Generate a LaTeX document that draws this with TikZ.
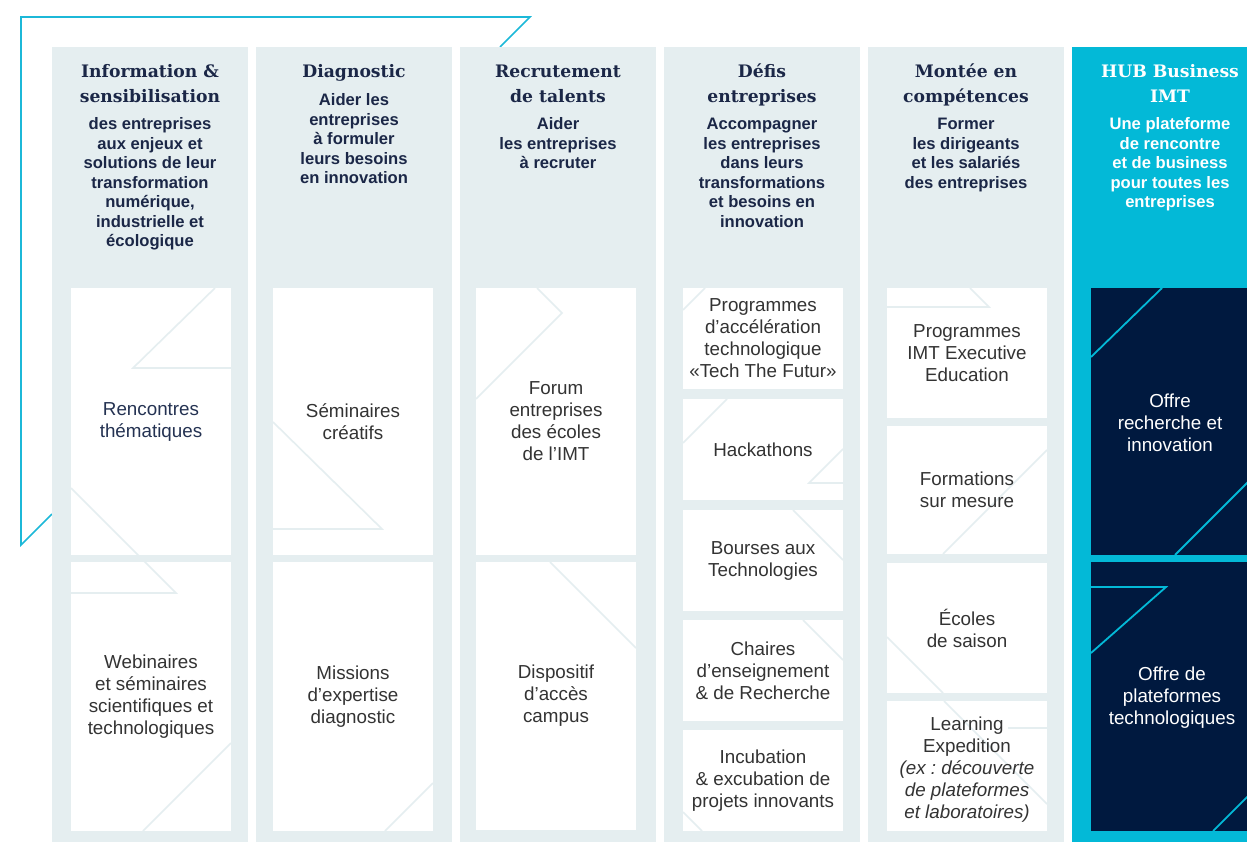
\documentclass[tikz,border=0pt]{standalone}
\usepackage{fontspec}
\setmainfont{Liberation Sans}
\newfontfamily\headfont{DejaVu Serif}
\frenchspacing
\definecolor{colbg}{HTML}{E5EEF0}
\definecolor{hubc}{HTML}{03B9D7}
\definecolor{framec}{HTML}{1CB8D8}
\definecolor{navybox}{HTML}{00193F}
\definecolor{headc}{HTML}{1B2747}
\definecolor{itemc}{HTML}{333333}
\definecolor{itemnavy}{HTML}{243252}
\begin{document}
\begin{tikzpicture}[x=1pt,y=-1pt,
  wbox/.style={fill=white, draw=none, inner sep=0pt, outer sep=0pt, anchor=north west},
  nbox/.style={fill=navybox, draw=none, inner sep=0pt, outer sep=0pt, anchor=north west},
  deco/.style={draw=colbg, line width=1.6pt, line join=miter},
  cdeco/.style={draw=hubc, line width=1.8pt, line join=miter},
  head/.style={anchor=base, align=center, inner sep=0pt, text=headc,
    font=\headfont\bfseries\fontsize{17.2}{25}\selectfont},
  sub/.style={anchor=base, align=center, inner sep=0pt, text=headc,
    font=\bfseries\fontsize{16.6}{19.5}\selectfont},
  item/.style={align=center, inner sep=0pt, text=itemc,
    font=\fontsize{18.8}{22}\selectfont}
]
\useasboundingbox (0,0) rectangle (1247,842);
\begin{scope}
\clip (0,0) rectangle (1247,842);
% frame
\draw[framec, line width=1.6pt, line join=miter] (500,47) -- (530,17) -- (21,17) -- (21,545) -- (52,514);
% columns
\foreach \i in {0,...,4} {
  \fill[colbg] ({52+204*\i},47) rectangle ({248+204*\i},842);
}
\fill[hubc] (1072,47) rectangle (1268,842);
% white boxes
\node[wbox, minimum width=160pt, minimum height=267pt] (b11) at (71,288) {};
\node[wbox, minimum width=160pt, minimum height=269pt] (b12) at (71,562) {};
\node[wbox, minimum width=160pt, minimum height=267pt] (b21) at (273,288) {};
\node[wbox, minimum width=160pt, minimum height=269pt] (b22) at (273,562) {};
\node[wbox, minimum width=160pt, minimum height=267pt] (b31) at (476,288) {};
\node[wbox, minimum width=160pt, minimum height=268pt] (b32) at (476,562) {};
\node[wbox, minimum width=160pt, minimum height=101pt] (b41) at (683,288) {};
\node[wbox, minimum width=160pt, minimum height=101pt] (b42) at (683,399) {};
\node[wbox, minimum width=160pt, minimum height=101pt] (b43) at (683,510) {};
\node[wbox, minimum width=160pt, minimum height=101pt] (b44) at (683,620) {};
\node[wbox, minimum width=160pt, minimum height=101pt] (b45) at (683,730) {};
\node[wbox, minimum width=160pt, minimum height=130pt] (b51) at (887,288) {};
\node[wbox, minimum width=160pt, minimum height=128pt] (b52) at (887,426) {};
\node[wbox, minimum width=160pt, minimum height=130pt] (b53) at (887,563) {};
\node[wbox, minimum width=160pt, minimum height=130pt] (b54) at (887,701) {};
\node[nbox, minimum width=177pt, minimum height=267pt] (b61) at (1091,288) {};
\node[nbox, minimum width=177pt, minimum height=269pt] (b62) at (1091,562) {};
% decorative lines
\draw[deco] (215,288) -- (133,368) -- (231,368);
\draw[deco] (71,488) -- (176,593) -- (71,593);
\draw[deco] (231,743) -- (143,831);
\draw[deco] (273,422) -- (382,529) -- (273,529);
\draw[deco] (433,783) -- (385,831);
\draw[deco] (537,288) -- (562,313) -- (476,399);
\draw[deco] (550,562) -- (636,648);
\draw[deco] (705,288) -- (683,310);
\draw[deco] (727,399) -- (683,443);
\draw[deco] (843,449) -- (809,483) -- (843,483);
\draw[deco] (793,510) -- (843,560);
\draw[deco] (803,620) -- (843,660);
\draw[deco] (683,812) -- (702,831);
\draw[deco] (970,288) -- (989,307) -- (887,307);
\draw[deco] (1047,450) -- (943,554);
\draw[deco] (887,637) -- (943,693);
\draw[deco] (944,701) -- (1047,804);
\draw[deco] (1008,728) -- (1047,728);
\draw[cdeco] (1162,288) -- (1091,357);
\draw[cdeco] (1250,480) -- (1175,555);
\draw[cdeco] (1091,587) -- (1166,587) -- (1091,653);
\draw[cdeco] (1250,794) -- (1213,831);
\end{scope}
% headings (base anchor = baseline of last line)
\node[head] (h1) at (150,103) {Information \&\\sensibilisation};
\node[sub] (s1) at (150,247) {des entreprises\\aux enjeux et\\solutions de leur\\transformation\\numérique,\\industrielle et\\écologique};
\node[head] (h2) at (354,78) {Diagnostic};
\node[sub] (s2) at (354,184) {Aider les\\entreprises\\à formuler\\leurs besoins\\en innovation};
\node[head] (h3) at (558,103) {Recrutement\\de talents};
\node[sub] (s3) at (558,169) {Aider\\les entreprises\\à recruter};
\node[head] (h4) at (762,103) {Défis\\entreprises};
\node[sub] (s4) at (762,227.5) {Accompagner\\les entreprises\\dans leurs\\transformations\\et besoins en\\innovation};
\node[head] (h5) at (966,103) {Montée en\\compétences};
\node[sub] (s5) at (966,188.5) {Former\\les dirigeants\\et les salariés\\des entreprises};
\node[head, text=white] (h6) at (1170,103) {HUB Business\\IMT};
\node[sub, text=white] (s6) at (1170,208) {Une plateforme\\de rencontre\\et de business\\pour toutes les\\entreprises};
% item texts
\node[item, text=itemnavy] (t11) at (b11.center) {Rencontres\\thématiques};
\node[item] (t12) at (b12.center) {Webinaires\\et séminaires\\scientifiques et\\technologiques};
\node[item] (t21) at (b21.center) {Séminaires\\créatifs};
\node[item] (t22) at (b22.center) {Missions\\d’expertise\\diagnostic};
\node[item] (t31) at (b31.center) {Forum\\entreprises\\des écoles\\de l’IMT};
\node[item] (t32) at (b32.center) {Dispositif\\d’accès\\campus};
\node[item] (t41) at (b41.center) {Programmes\\d’accélération\\technologique\\«Tech The Futur»};
\node[item] (t42) at (b42.center) {Hackathons};
\node[item] (t43) at (b43.center) {Bourses aux\\Technologies};
\node[item] (t44) at (b44.center) {Chaires\\d’enseignement\\\& de Recherche};
\node[item] (t45) at (b45.center) {Incubation\\\& excubation de\\projets innovants};
\node[item] (t51) at (b51.center) {Programmes\\IMT Executive\\Education};
\node[item] (t52) at (b52.center) {Formations\\sur mesure};
\node[item] (t53) at (b53.center) {Écoles\\de saison};
\node[item] (t54) at (967,770) {Learning\\Expedition\\\textit{(ex : découverte}\\\textit{de plateformes}\\\textit{et laboratoires)}};
\node[item, text=white] (t61) at (1170,423) {Offre\\recherche et\\innovation};
\node[item, text=white] (t62) at (1172,698) {Offre de\\plateformes\\technologiques};
\end{tikzpicture}
\end{document}
